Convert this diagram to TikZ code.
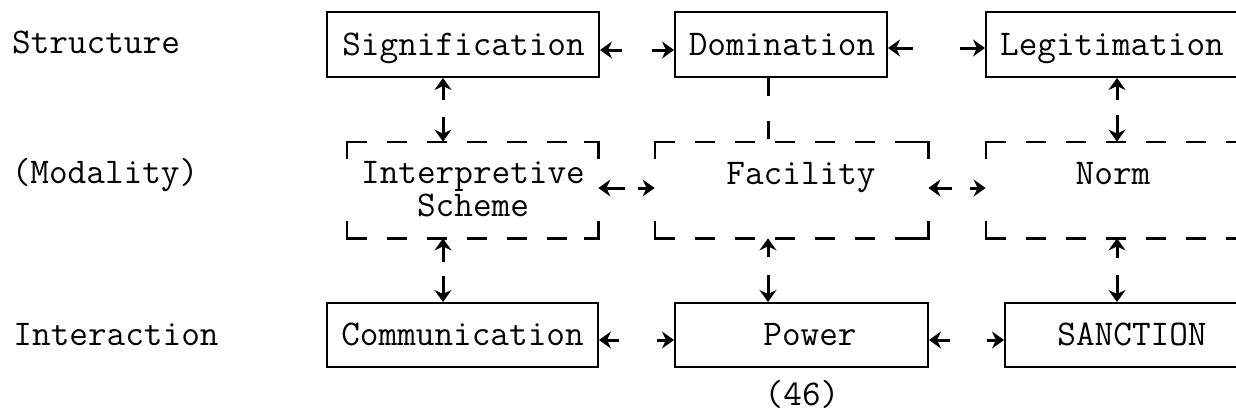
\documentclass[tikz,border=0pt]{standalone}
\usetikzlibrary{arrows.meta,calc}
\newcommand{\dashcorners}[1]{%
  \draw[dline] (#1.north west) -- (#1.north east);
  \draw[dline] (#1.south west) -- (#1.south east);
  \draw[cornerline] ($(#1.north west)+(0,17)$) -- (#1.north west) -- ++(14,0);
  \draw[cornerline] ($(#1.north east)+(0,17)$) -- (#1.north east) -- ++(-14,0);
  \draw[cornerline] ($(#1.south west)+(0,-17)$) -- (#1.south west) -- ++(14,0);
  \draw[cornerline] ($(#1.south east)+(0,-17)$) -- (#1.south east) -- ++(-14,0);
}
\begin{document}
\begin{tikzpicture}[x=0.5pt,y=-0.5pt,
  every node/.style={font=\ttfamily\fontsize{18.1}{16.5}\selectfont},
  solidbox/.style={draw, line width=1pt, inner sep=0pt, rectangle},
  dashbox/.style={draw=none, inner sep=0pt, rectangle},
  lbl/.style={anchor=base, inner sep=0pt},
  dline/.style={line width=1.1pt, dash pattern=on 10pt off 10pt},
  cornerline/.style={line width=1.1pt},
  arr/.style={line width=1.5pt, -{Stealth[length=6pt,width=8.5pt,inset=2pt]}},
  dashlink/.style={line width=1.5pt, dash pattern=on 9pt off 12.5pt}]
\useasboundingbox (0,0) rectangle (1236,412);
\clip (0,0) rectangle (1236,412);
% row labels
\node[lbl] (lstr) at (96,54) {Structure};
\node[lbl] (lmod) at (105,183) {(Modality)};
\node[lbl] (lint) at (116,345) {Interaction};
% row 1 boxes
\node[solidbox, minimum width=136pt, minimum height=32.5pt] (sig) at (463,44.5) {};
\node[solidbox, minimum width=106pt, minimum height=32.5pt] (dom) at (781,44.5) {};
\node[solidbox, minimum width=127pt, minimum height=32.5pt] (leg) at (1113,44.5) {};
\node[lbl] (sigt) at (463.5,55) {Signification};
\node[lbl] (domt) at (782,55) {Domination};
\node[lbl] (legt) at (1112,55) {Legitimation};
% row 2 dashed boxes
\node[dashbox, minimum width=125.5pt, minimum height=48pt] (int) at (472.5,190) {};
\node[dashbox, minimum width=136.5pt, minimum height=48pt] (fac) at (791.5,190) {};
\node[dashbox, minimum width=127pt, minimum height=48pt] (nor) at (1113,190) {};
\dashcorners{int}
\dashcorners{fac}
\dashcorners{nor}
\node[lbl, align=center] (intt) at (473,216) {Interpretive\\Scheme};
\node[lbl] (fact) at (801,184) {Facility};
\node[lbl] (nort) at (1113,184) {Norm};
% row 3 boxes
\node[solidbox, minimum width=135.5pt, minimum height=32pt] (com) at (462.5,335) {};
\node[solidbox, minimum width=126.5pt, minimum height=32pt] (pow) at (801.5,335) {};
\node[solidbox, minimum width=127pt, minimum height=32pt] (san) at (1132,335) {};
\node[lbl] (comt) at (462.5,345) {Communication};
\node[lbl] (powt) at (810,345) {Power};
\node[lbl] (sant) at (1132,345) {SANCTION};
% page number
\node[lbl] (page) at (802,405) {(46)};
% horizontal connectors
\coordinate (a1) at (622,50);
\coordinate (a2) at (652,50);
\coordinate (a3) at (913,48);
\coordinate (a4) at (960,48);
\draw[arr] (a1) -- (sig.east |- a1);
\draw[arr] (a2) -- (dom.west |- a2);
\draw[arr] (a3) -- (dom.east |- a3);
\draw[arr] (a4) -- (leg.west |- a4);
\coordinate (b1) at (625,188);
\coordinate (b2) at (638,188);
\coordinate (b3) at (952,188);
\coordinate (b4) at (970,188);
\draw[arr] (b1) -- (int.east |- b1);
\draw[arr] (b2) -- (fac.west |- b2);
\draw[arr] (b3) -- (fac.east |- b3);
\draw[arr] (b4) -- (nor.west |- b4);
\coordinate (c1) at (619,340);
\coordinate (c2) at (657,340);
\coordinate (c3) at (950,340);
\coordinate (c4) at (987,340);
\draw[arr] (c1) -- (com.east |- c1);
\draw[arr] (c2) -- (pow.west |- c2);
\draw[arr] (c3) -- (pow.east |- c3);
\draw[arr] (c4) -- (san.west |- c4);
% vertical connectors
\coordinate (v1) at (443,100);
\coordinate (v2) at (443,117);
\coordinate (v3) at (1117,100);
\coordinate (v4) at (1117,115);
\coordinate (v5) at (443,262);
\coordinate (v6) at (443,276);
\coordinate (v7) at (768,257);
\coordinate (v8) at (768,275);
\coordinate (v9) at (1117,258);
\coordinate (v10) at (1117,275);
\draw[arr] (v1) -- (sig.south -| v1);
\draw[arr] (v2) -- (int.north -| v2);
\draw[arr] (v3) -- (leg.south -| v3);
\draw[arr] (v4) -- (nor.north -| v4);
\draw[arr] (v5) -- (int.south -| v5);
\draw[arr] (v6) -- (com.north -| v6);
\draw[arr] (v7) -- (fac.south -| v7);
\draw[arr] (v8) -- (pow.north -| v8);
\draw[arr] (v9) -- (nor.south -| v9);
\draw[arr] (v10) -- (san.north -| v10);
\coordinate (d1) at (768,0);
\draw[dashlink] (dom.south -| d1) -- (fac.north -| d1);
\end{tikzpicture}
\end{document}
